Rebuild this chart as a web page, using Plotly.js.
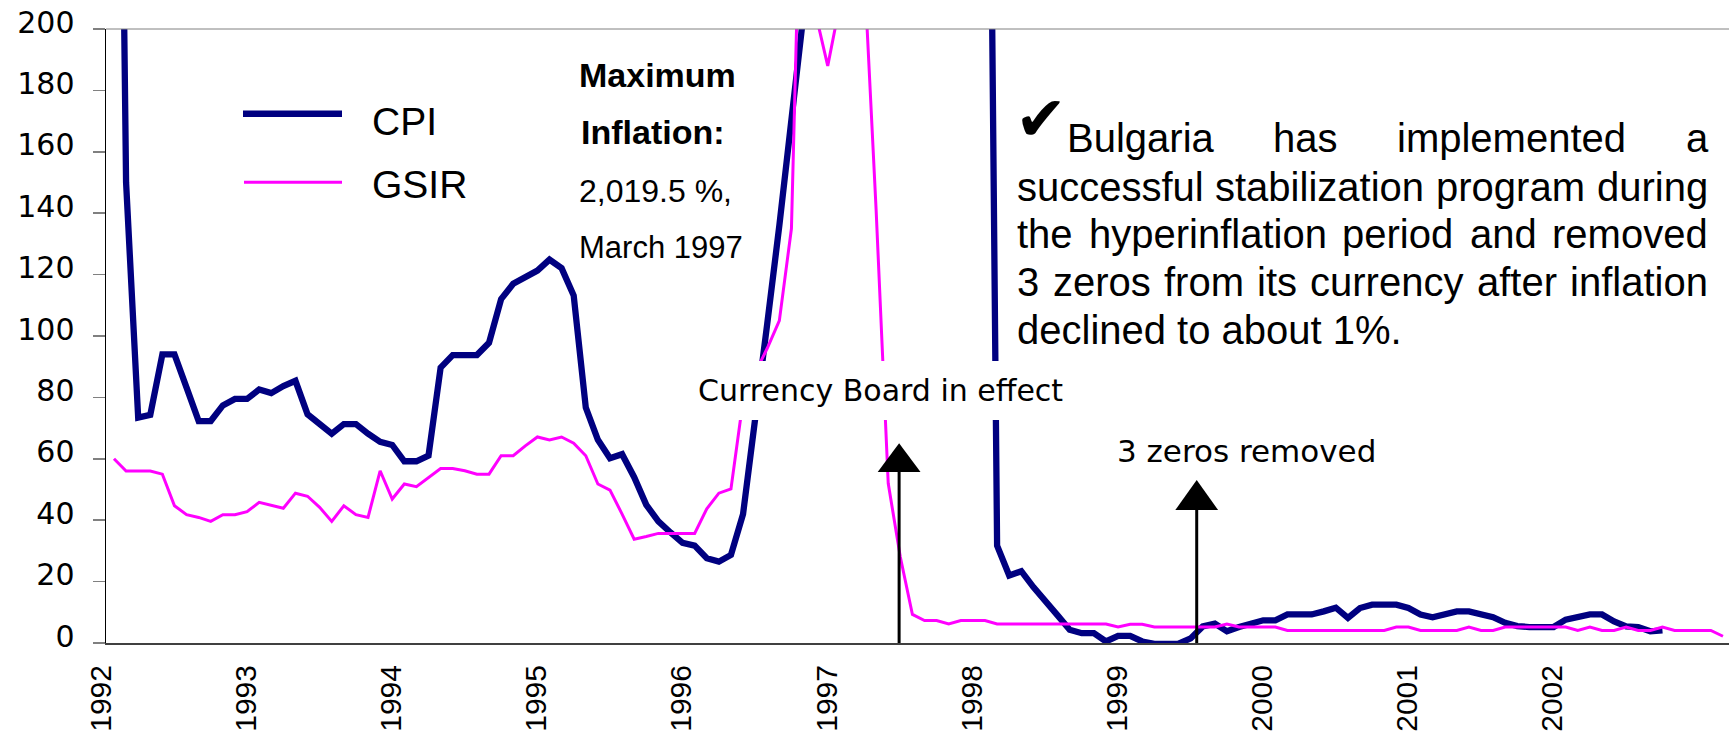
<!DOCTYPE html>
<html>
<head>
<meta charset="utf-8">
<script src="https://cdn.plot.ly/plotly-3.0.1.min.js"></script>
<style>
  html, body { margin: 0; padding: 0; background: #ffffff; }
  #chart { width: 1729px; height: 733px; }
</style>
</head>
<body>
<div id="chart"></div>
<script>
// ---------------- DATA ----------------
const years = [1992, 1993, 1994, 1995, 1996, 1997, 1998, 1999, 2000, 2001, 2002, 2003];
const monthNames = ['Jan','Feb','Mar','Apr','May','Jun','Jul','Aug','Sep','Oct','Nov','Dec'];

// CPI, annual % change (monthly, Jan 1992 - Sep 2002)
const cpi = [
  480, 150, 73.4, 74.3, 94, 94, 83.2, 72.3, 72.3, 77.4, 79.5, 79.5,
  82.6, 81.4, 83.7, 85.4, 74.5, 71.5, 68.2, 71.3, 71.3, 68.2, 65.5, 64.5,
  59.2, 59.2, 61, 89.7, 93.8, 93.8, 93.8, 97.8, 112, 117, 119.2, 121.3,
  124.9, 122.1, 113.2, 76.7, 66.2, 60.2, 61.5, 54, 45, 39.6, 36, 32.6,
  31.7, 27.6, 26.5, 28.7, 42, 72, 104, 136, 168, 205, 250, 311,
  450, 1270, 2019.5, 1960, 1800, 1570, 1300, 1050, 960, 850, 700, 578.5,
  450, 31.7, 22, 23.4, 18.2, 13.9, 9, 4.3, 3.2, 3.2, 0.5, 2.3,
  2.3, 0.5, -0.3, -0.3, -0.2, 1.5, 5.4, 6.3, 3.8, 5.2, 6.3, 7.4,
  7.4, 9.3, 9.3, 9.3, 10.3, 11.5, 8.2, 11.4, 12.5, 12.5, 12.5, 11.4,
  9.3, 8.4, 9.3, 10.3, 10.3, 9.3, 8.4, 6.6, 5.5, 5.2, 5.2, 5.2,
  7.6, 8.4, 9.3, 9.3, 7, 5.4, 5.2, 3.8, 4.1
];

// GSIR, % (monthly, Jan 1992 - Feb 2003)
const gsir = [
  60, 56, 56, 56, 55, 44.7, 41.8, 40.9, 39.6, 41.8, 41.8, 42.8,
  45.8, 44.9, 43.9, 48.8, 47.8, 44.2, 39.6, 44.7, 41.8, 40.9, 56.1, 46.9,
  51.8, 50.9, 53.9, 56.8, 56.8, 56.1, 55, 55, 61, 61, 64.2, 67.1,
  66.1, 67.1, 65.1, 61, 51.8, 49.8, 42, 33.8, 34.7, 35.7, 35.7, 35.7,
  35.7, 43.7, 48.8, 50.2, 79, 88, 96, 105, 135, 290, 205, 188,
  208, 300, 222, 141, 52, 28, 9.3, 7.3, 7.3, 6.2, 7.3, 7.3,
  7.3, 6.2, 6.2, 6.2, 6.2, 6.2, 6.2, 6.2, 6.2, 6.2, 6.2, 5.2,
  6.1, 6.1, 5.2, 5.2, 5.2, 5.2, 5.2, 5.2, 6.2, 5.2, 5.2, 5.2,
  5.2, 4.1, 4.1, 4.1, 4.1, 4.1, 4.1, 4.1, 4.1, 4.1, 5.2, 5.2,
  4.1, 4.1, 4.1, 4.1, 5.2, 4.1, 4.1, 5.2, 5.2, 5.2, 5.2, 5.2,
  5.2, 4.1, 5.2, 4.1, 4.1, 5.2, 4.1, 4.1, 5.2, 4.1, 4.1, 4.1,
  4.1, 2.2
];

const tickYears = ['1992','1993','1994','1995','1996','1997','1998','1999','2000','2001','2002'];
const yTicks = [0, 20, 40, 60, 80, 100, 120, 140, 160, 180, 200];

// events (month index from Jan 1992)
const eventNames = ['Currency Board in effect', '3 zeros removed'];
const eventMonths = [64.9, 89.5];

// note text
const noteLines = [
  'Bulgaria has implemented a',
  'successful stabilization program during',
  'the hyperinflation period and removed',
  '3 zeros from its currency after inflation',
  'declined to about 1%.'
];
const maxLines = ['<b>Maximum</b>', '<b>Inflation:</b>', '2,019.5 %,', 'March 1997'];

// ---------------- BUILD ----------------
const monthLabels = [];
years.forEach(y => monthNames.forEach(m => monthLabels.push(m + ' ' + y)));
const labels = monthLabels.slice(0, gsir.length);
const xIdx = labels.map((_, i) => i);

// layout pixel helpers (plot area: x 106..1729, y 29..643)
const PL = 106, PR = 1729, PT = 29, PB = 643;
const px = v => (v - PL) / (PR - PL);
const py = v => (PB - v) / (PB - PT);

const ARIAL = 'Liberation Sans, Arial, Helvetica, sans-serif';
const WIDE = 'DejaVu Sans, Verdana, sans-serif';

const traces = [
  {
    name: 'CPI', type: 'scatter', mode: 'lines',
    x: xIdx.slice(0, cpi.length), y: cpi, text: labels.slice(0, cpi.length),
    hovertemplate: '%{text}: %{y}<extra>CPI</extra>',
    line: { color: '#000080', width: 6.3 }
  },
  {
    name: 'GSIR', type: 'scatter', mode: 'lines',
    x: xIdx, y: gsir, text: labels,
    hovertemplate: '%{text}: %{y}<extra>GSIR</extra>',
    line: { color: '#FF00FF', width: 3 }
  }
];

function ann(text, x, y, o) {
  return Object.assign({
    text: text, x: px(x), y: py(y), xref: 'paper', yref: 'paper',
    showarrow: false, xanchor: 'left', yanchor: 'middle',
    borderpad: 0, borderwidth: 0,
    font: { family: ARIAL, size: 40, color: '#000' }
  }, o || {});
}

// justify a line of words between two pixel x positions
const cv = document.createElement('canvas').getContext('2d');
function justified(line, x0, x1, y, size) {
  cv.font = size + 'px "Liberation Sans", Arial, sans-serif';
  const words = line.split(' ');
  const widths = words.map(w => cv.measureText(w).width);
  const total = widths.reduce((a, b) => a + b, 0);
  const gap = words.length > 1 ? (x1 - x0 - total) / (words.length - 1) : 0;
  const out = [];
  let x = x0;
  words.forEach((w, k) => {
    out.push(ann(w, x, y, { font: { family: ARIAL, size: size, color: '#000' } }));
    x += widths[k] + gap;
  });
  return out;
}

const annotations = [
  ann(maxLines[0], 579, 75, { font: { family: ARIAL, size: 34, color: '#000' } }),
  ann(maxLines[1], 581, 132, { font: { family: ARIAL, size: 34, color: '#000' } }),
  ann(maxLines[2], 579, 191, { font: { family: ARIAL, size: 32, color: '#000' } }),
  ann(maxLines[3], 579, 247, { font: { family: ARIAL, size: 31, color: '#000' } }),

  ann('CPI', 372, 122, { font: { family: ARIAL, size: 39, color: '#000' } }),
  ann('GSIR', 372, 184, { font: { family: ARIAL, size: 39, color: '#000' } }),

  ann('\u2714', 1041, 119, { xanchor: 'center', font: { family: WIDE, size: 62, color: '#000' } }),
  ...justified(noteLines[0], 1067, 1708, 138, 40),
  ...justified(noteLines[1], 1017, 1708, 187, 40),
  ...justified(noteLines[2], 1017, 1708, 234, 40),
  ...justified(noteLines[3], 1017, 1708, 282, 40),
  ann(noteLines[4], 1017, 330),

  ann(eventNames[0], 880, 390, { xanchor: 'center', bgcolor: '#ffffff', borderpad: 12,
      font: { family: WIDE, size: 30, color: '#000' } }),
  ann(eventNames[1], 1246, 451, { xanchor: 'center', font: { family: WIDE, size: 31, color: '#000' } })
];

const arrowTip = [65.1, 53.1];
const arrowBase = [55.7, 43.3];
const shapes = [
  { type: 'line', xref: 'paper', yref: 'paper', x0: 0, x1: 1, y0: 1, y1: 1,
    line: { color: '#808080', width: 1 } },
  { type: 'line', xref: 'paper', yref: 'paper', x0: px(243), x1: px(342), y0: py(113.7), y1: py(113.7),
    line: { color: '#000080', width: 6.5 } },
  { type: 'line', xref: 'paper', yref: 'paper', x0: px(244), x1: px(342), y0: py(182.3), y1: py(182.3),
    line: { color: '#FF00FF', width: 3 } }
];
eventMonths.forEach((m, k) => {
  shapes.push({ type: 'line', xref: 'x', yref: 'y', x0: m, x1: m, y0: -1.5, y1: arrowBase[k] + 0.5,
    line: { color: '#000', width: 3 } });
  shapes.push({ type: 'path', xref: 'x', yref: 'y',
    path: `M ${m - 1.77},${arrowBase[k]} L ${m + 1.77},${arrowBase[k]} L ${m},${arrowTip[k]} Z`,
    fillcolor: '#000', line: { width: 0 } });
});

const layout = {
  width: 1729, height: 733,
  margin: { l: PL, r: 0, t: PT, b: 733 - PB, pad: 0 },
  paper_bgcolor: '#ffffff', plot_bgcolor: '#ffffff',
  showlegend: false,
  xaxis: {
    type: 'linear', range: [-0.66, 133.5],
    tickmode: 'array', tickvals: tickYears.map((_, k) => 12 * k), ticktext: tickYears,
    tickangle: -90, ticks: '', ticklabelshift: -13, ticklabelstandoff: 8,
    tickfont: { family: ARIAL, size: 30, color: '#000' },
    showline: true, linecolor: '#404040', linewidth: 2,
    showgrid: false, zeroline: false, fixedrange: true
  },
  yaxis: {
    range: [0, 200], tickmode: 'array', tickvals: yTicks,
    ticks: 'outside', ticklen: 12, tickwidth: 1.5, tickcolor: '#808080',
    ticklabelstandoff: 12, ticklabelshift: -7,
    tickfont: { family: WIDE, size: 30, color: '#000' },
    showline: true, linecolor: '#000', linewidth: 1.5,
    showgrid: false, zeroline: false, fixedrange: true
  },
  annotations: annotations,
  shapes: shapes
};

Plotly.newPlot('chart', traces, layout, { displayModeBar: false, staticPlot: true });
</script>
</body>
</html>
